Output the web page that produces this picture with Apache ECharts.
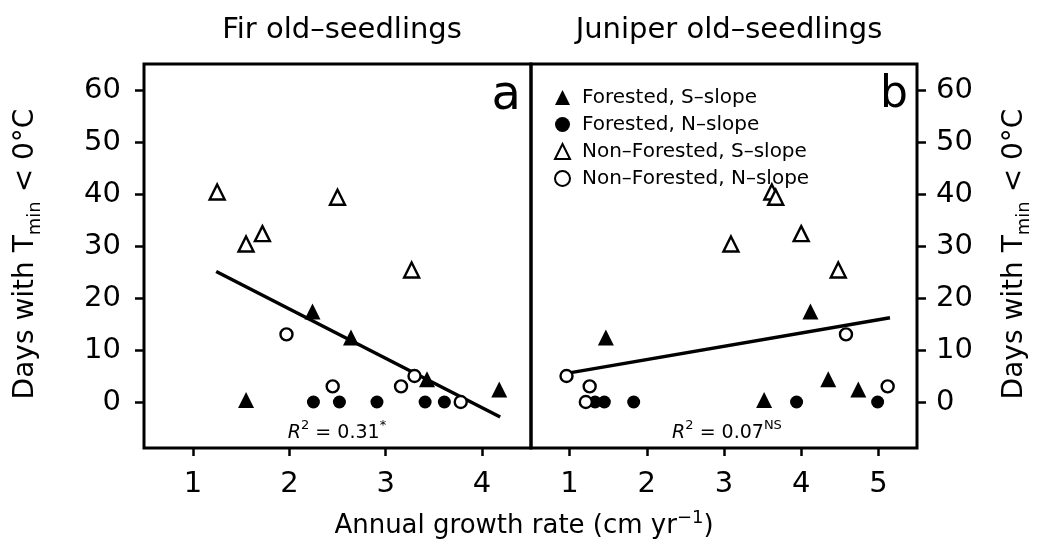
<!DOCTYPE html>
<html>
<head>
<meta charset="utf-8">
<script src="https://cdn.jsdelivr.net/npm/echarts@6/dist/echarts.min.js"></script>
<style>
  html, body { margin: 0; padding: 0; background: #fff; }
  #chart { width: 1043px; height: 558px; }
</style>
</head>
<body>
<div id="chart"></div>
<script>
// tick labels
const firTicks = [1, 2, 3, 4]
const junTicks = [1, 2, 3, 4, 5]
const dayTicks = [0, 10, 20, 30, 40, 50, 60]

const seriesNames = ['Forested, S\u2013slope', 'Forested, N\u2013slope', 'Non\u2013Forested, S\u2013slope', 'Non\u2013Forested, N\u2013slope']

// Fir old-seedlings (panel a)
const firForS_x = [1.55, 2.24, 2.64, 3.43, 4.18]
const firForS_y = [0, 17, 12, 4, 2]
const firForN_x = [2.25, 2.52, 2.91, 3.41, 3.61]
const firForN_y = [0, 0, 0, 0, 0]
const firNonS_x = [1.25, 1.55, 1.72, 2.50, 3.27]
const firNonS_y = [40, 30, 32, 39, 25]
const firNonN_x = [1.97, 2.45, 3.16, 3.30, 3.78]
const firNonN_y = [13, 3, 3, 5, 0]
const firFit_x = [1.24, 4.19]
const firFit_y = [25.1, -2.9]

// Juniper old-seedlings (panel b)
const junForS_x = [1.47, 3.52, 4.12, 4.35, 4.74]
const junForS_y = [12, 0, 17, 4, 2]
const junForN_x = [1.33, 1.45, 1.83, 3.94, 4.99]
const junForN_y = [0, 0, 0, 0, 0]
const junNonS_x = [3.09, 3.62, 3.67, 4.00, 4.48]
const junNonS_y = [30, 40, 39, 32, 25]
const junNonN_x = [0.96, 1.26, 1.21, 4.58, 5.12]
const junNonN_y = [5, 3, 0, 13, 3]
const junFit_x = [0.96, 5.15]
const junFit_y = [5.5, 16.2]

const FONT = 'DejaVu Sans'
const zip = (xs, ys) => xs.map((x, i) => [x, ys[i]])

const markerStyles = [
    { symbol: 'triangle', symbolSize: 16, symbolOffset: [0, -2], itemStyle: { color: '#000', opacity: 1 } },
    { symbol: 'circle', symbolSize: 13, itemStyle: { color: '#000', opacity: 1 } },
    { symbol: 'triangle', symbolSize: 15, symbolOffset: [0, -2], itemStyle: { color: '#fff', borderColor: '#000', borderWidth: 2.4, opacity: 1 } },
    { symbol: 'circle', symbolSize: 12, itemStyle: { color: '#fff', borderColor: '#000', borderWidth: 2.4, opacity: 1 } }
]

const firSets = [zip(firForS_x, firForS_y), zip(firForN_x, firForN_y), zip(firNonS_x, firNonS_y), zip(firNonN_x, firNonN_y)]
const junSets = [zip(junForS_x, junForS_y), zip(junForN_x, junForN_y), zip(junNonS_x, junNonS_y), zip(junNonN_x, junNonN_y)]

const scatter = (sets, idx) => sets.map((data, i) => ({
    name: seriesNames[i],
    type: 'scatter',
    xAxisIndex: idx,
    yAxisIndex: idx,
    data: data,
    z: 3,
    ...markerStyles[i]
}))

const fitLine = (xs, ys, idx) => ({
    type: 'line',
    xAxisIndex: idx,
    yAxisIndex: idx,
    data: zip(xs, ys),
    symbol: 'none',
    lineStyle: { color: '#000', width: 3.5 },
    z: 2
})

const xAxisBase = (idx, min, max, ticks) => ({
    type: 'value',
    gridIndex: idx,
    min: min,
    max: max,
    axisLine: { show: false, onZero: false },
    splitLine: { show: false },
    axisTick: { show: true, customValues: ticks, length: 8, lineStyle: { color: '#000', width: 2.5 } },
    axisLabel: { customValues: ticks, color: '#000', fontSize: 29, fontFamily: FONT, margin: 22 }
})

const yAxisBase = (idx, pos, margin) => ({
    type: 'value',
    gridIndex: idx,
    position: pos,
    min: -8.85,
    max: 65,
    axisLine: { show: false, onZero: false },
    splitLine: { show: false },
    axisTick: { show: true, customValues: dayTicks, length: 9, lineStyle: { color: '#000', width: 2.5 } },
    axisLabel: { customValues: dayTicks, color: '#000', fontSize: 29, fontFamily: FONT, margin: margin }
})

const yTitleRich = {
    a: { fontSize: 28, fontFamily: FONT, color: '#000', lineHeight: 36 },
    s: { fontSize: 18, fontFamily: FONT, color: '#000', lineHeight: 18, verticalAlign: 'bottom' }
}
const supRich = (size) => ({
    a: { fontSize: size, fontFamily: FONT, color: '#000', lineHeight: size + 8 },
    i: { fontSize: size, fontFamily: FONT, fontStyle: 'italic', color: '#000', lineHeight: size + 8 },
    p: { fontSize: Math.round(size * 0.68), fontFamily: FONT, color: '#000', lineHeight: Math.round(size * 0.68), verticalAlign: 'top' }
})

const chart = echarts.init(document.getElementById('chart'))

const option = {
    backgroundColor: '#fff',
    animation: false,
    title: [
        { text: 'Fir old\u2013seedlings', left: 337, top: 11, textAlign: 'center', textStyle: { fontSize: 29, fontWeight: 'normal', fontFamily: FONT, color: '#000' } },
        { text: 'Juniper old\u2013seedlings', left: 724, top: 11, textAlign: 'center', textStyle: { fontSize: 29, fontWeight: 'normal', fontFamily: FONT, color: '#000' } }
    ],
    legend: {
        data: seriesNames,
        orient: 'vertical',
        left: 549,
        top: 82,
        itemWidth: 15,
        itemHeight: 15,
        itemGap: 6,
        textStyle: { fontSize: 20, fontFamily: FONT, color: '#000', lineHeight: 21, padding: [0, 0, 0, 7] }
    },
    grid: [
        { left: 144, top: 64, width: 387, height: 384, show: true, borderColor: '#000', borderWidth: 3, outerBoundsMode: 'none' },
        { left: 531, top: 64, width: 386, height: 384, show: true, borderColor: '#000', borderWidth: 3, outerBoundsMode: 'none' }
    ],
    xAxis: [
        xAxisBase(0, 0.49, 4.51, firTicks),
        xAxisBase(1, 0.5, 5.5, junTicks)
    ],
    yAxis: [
        yAxisBase(0, 'left', 23),
        yAxisBase(1, 'right', 19)
    ],
    graphic: [
        { type: 'text', x: 521, y: 73, style: { text: 'a', fontSize: 48, fontFamily: FONT, fill: '#000', align: 'right', verticalAlign: 'top' } },
        { type: 'text', x: 908, y: 74, style: { text: 'b', fontSize: 44, fontFamily: FONT, fill: '#000', align: 'right', verticalAlign: 'top' } },
        { type: 'text', x: 26, y: 254, rotation: Math.PI / 2, style: { text: '{a|Days with T}{s|min}{a| < 0\u00b0C}', rich: yTitleRich, align: 'center', verticalAlign: 'middle' } },
        { type: 'text', x: 1015, y: 254, rotation: Math.PI / 2, style: { text: '{a|Days with T}{s|min}{a| < 0\u00b0C}', rich: yTitleRich, align: 'center', verticalAlign: 'middle' } },
        { type: 'text', x: 524, y: 526, style: { text: '{a|Annual growth rate (cm yr}{p|\u22121}{a|)}', rich: supRich(26), align: 'center', verticalAlign: 'middle' } },
        { type: 'text', x: 337, y: 433, style: { text: '{i|R}{p|2}{a| = 0.31}{p|*}', rich: supRich(19), align: 'center', verticalAlign: 'middle' } },
        { type: 'text', x: 727, y: 433, style: { text: '{i|R}{p|2}{a| = 0.07}{p|NS}', rich: supRich(19), align: 'center', verticalAlign: 'middle' } }
    ],
    series: [
        ...scatter(firSets, 0),
        ...scatter(junSets, 1),
        fitLine(firFit_x, firFit_y, 0),
        fitLine(junFit_x, junFit_y, 1)
    ]
}

chart.setOption(option)
</script>
</body>
</html>
